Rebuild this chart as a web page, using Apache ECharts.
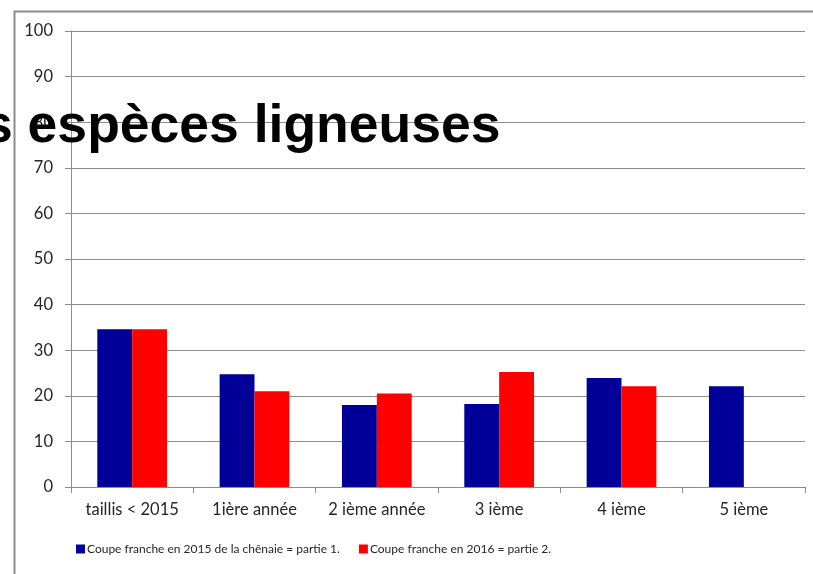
<!DOCTYPE html>
<html>
<head>
<meta charset="utf-8">
<script src="https://cdn.jsdelivr.net/npm/echarts@6/dist/echarts.min.js"></script>
<style>
html,body{margin:0;padding:0;background:#fff;}
#chart{width:813px;height:574px;}
</style>
</head>
<body>
<div id="chart"></div>
<script>
const categories = ['taillis < 2015', '1ière année', '2 ième année', '3 ième', '4 ième', '5 ième'];
const seriesNames = ['Coupe franche en 2015 de la chênaie = partie 1.', 'Coupe franche en 2016 = partie 2.'];
const partie1 = [34.6, 24.7, 18.0, 18.2, 23.9, 22.1];
const partie2 = [34.6, 21.0, 20.5, 25.2, 22.1, null];
const yTicks = { min: 0, max: 100, interval: 10 };
const titleText = 's espèces ligneuses';

const chart = echarts.init(document.getElementById('chart'), null, { renderer: 'canvas' });
const font = 'Lato, "Liberation Sans", sans-serif';
chart.setOption({
  animation: false,
  backgroundColor: '#fff',
  grid: { left: 71, right: 8, top: 31, bottom: 87, containLabel: false },
  legend: {
    left: 76, top: 543, padding: 0,
    itemWidth: 9, itemHeight: 9, itemGap: 19,
    icon: 'rect',
    textStyle: { fontFamily: font, fontSize: 12, color: '#262626', padding: [0, 0, 0, -3] },
    data: seriesNames
  },
  xAxis: {
    type: 'category',
    data: categories,
    axisLine: { lineStyle: { color: '#8c8c8c', width: 1 } },
    axisTick: { show: true, interval: 0, length: 6, alignWithLabel: false, lineStyle: { color: '#8c8c8c' } },
    axisLabel: { interval: 0, fontFamily: font, fontSize: 16.5, color: '#262626', margin: 14 },
    splitLine: { show: false }
  },
  yAxis: {
    type: 'value',
    min: yTicks.min, max: yTicks.max, interval: yTicks.interval,
    axisLine: { show: true, lineStyle: { color: '#8c8c8c', width: 1 } },
    axisTick: { show: true, length: 6, lineStyle: { color: '#8c8c8c' } },
    axisLabel: { fontFamily: font, fontSize: 16.5, color: '#262626', margin: 18 },
    splitLine: { show: true, lineStyle: { color: '#8c8c8c', width: 1 } }
  },
  series: [
    { name: seriesNames[0], type: 'bar', data: partie1, barGap: '0%', barCategoryGap: '43%',
      itemStyle: { color: '#000099' } },
    { name: seriesNames[1], type: 'bar', data: partie2, barGap: '0%', barCategoryGap: '43%',
      itemStyle: { color: '#ff0000' } }
  ],
  graphic: [
    { type: 'rect', left: 12, top: 9, shape: { width: 900, height: 700 }, z: -10,
      style: { fill: 'none', stroke: '#8c8c8c', lineWidth: 2 } },
    { type: 'text', x: -17, y: 100, z: 100,
      style: { text: titleText, font: 'bold 53.5px "Liberation Sans", Arial, sans-serif', fill: '#000' } }
  ]
});
</script>
</body>
</html>
